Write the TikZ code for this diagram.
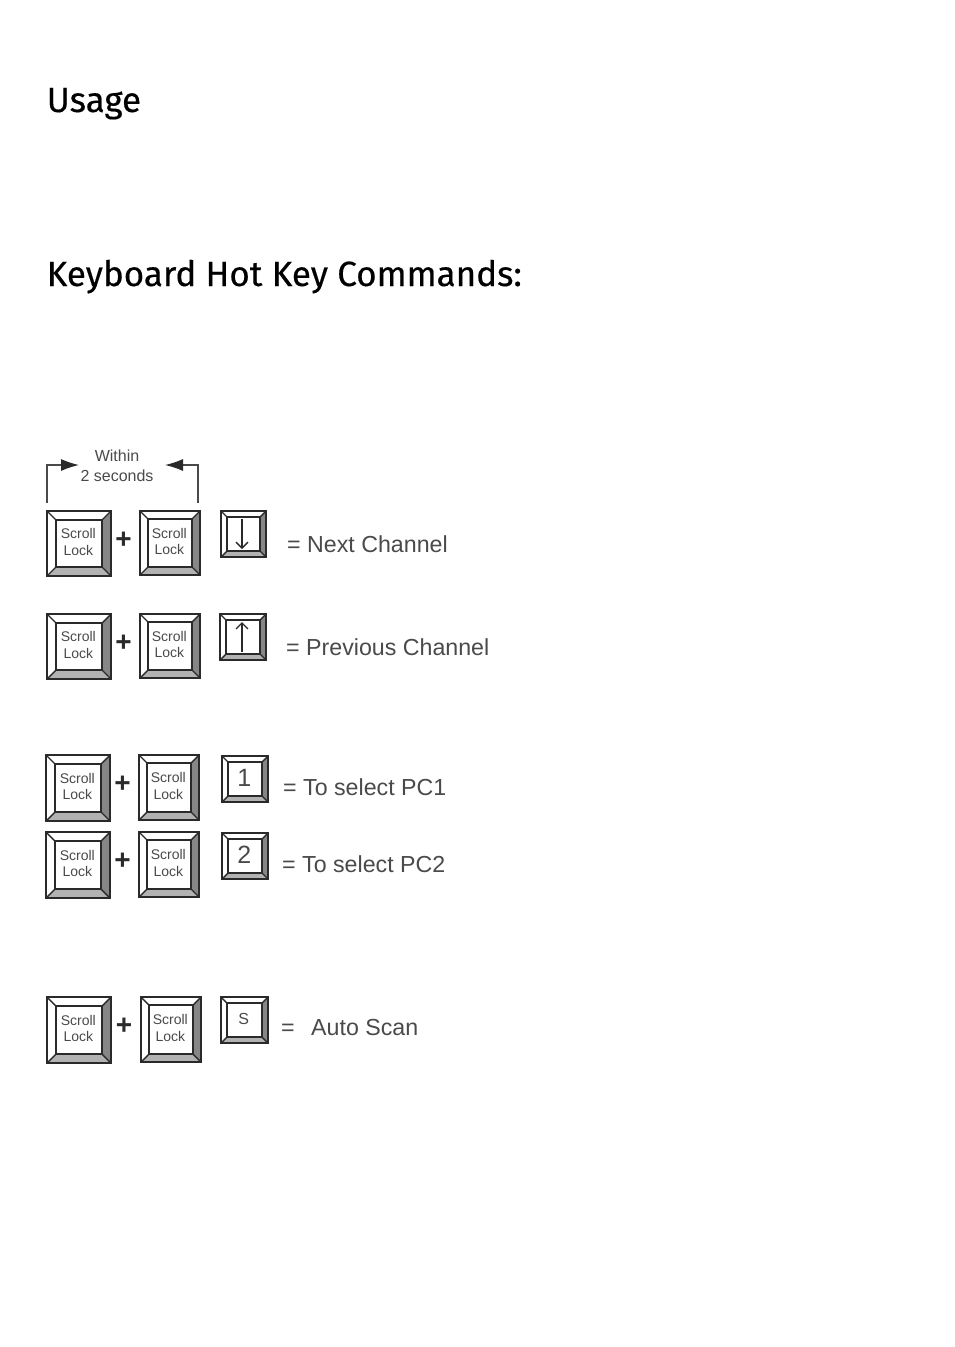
\documentclass[tikz,border=0pt]{standalone}
\usepackage{fontspec}
\setmainfont{Liberation Sans}
\newfontfamily\headfont[FakeBold=0.4]{Fira Sans}
\usetikzlibrary{arrows.meta}
\definecolor{keyink}{HTML}{2A2A2A}
\definecolor{labelink}{HTML}{4A4A4A}
\tikzset{x=1pt,y=-1pt,
 heading/.style={anchor=base west,inner sep=0pt,font=\headfont\fontsize{35}{35}\selectfont,text=black},
 keylabel/.style={align=center,inner sep=0pt,text=labelink,font=\fontsize{14}{16.5}\selectfont},
 desc/.style={anchor=base west,inner sep=0pt,text=labelink,font=\fontsize{23.2}{24}\selectfont},
 plus/.style={inner sep=0pt,text=keyink,font=\bfseries\fontsize{28}{28}\selectfont},
 edge/.style={draw=keyink,line width=2pt,line join=miter},
 inneredge/.style={draw=keyink,line width=1.4pt,line join=miter},
 bracket/.style={draw=labelink,line width=1.2pt,-{Latex[length=18pt,width=12pt,color=keyink]}},
 keyarrow/.style={draw=keyink,line width=1.3pt,-{Straight Barb[length=6pt,width=12pt]}},
}
% name, x0, y0, x1, y1, bevel, content
\newcommand{\keycap}[7]{%
 \fill[white] (#2,#3) rectangle (#4,#5);
 \fill[gray!95] (#4,#3) -- (#4,#5) -- ({#4-#6},{#5-#6}) -- ({#4-#6},{#3+#6}) -- cycle;
 \fill[gray!60] (#2,#5) -- (#4,#5) -- ({#4-#6},{#5-#6}) -- ({#2+#6},{#5-#6}) -- cycle;
 \draw[inneredge] (#2,#3) -- ({#2+#6},{#3+#6}) (#4,#3) -- ({#4-#6},{#3+#6}) (#2,#5) -- ({#2+#6},{#5-#6}) (#4,#5) -- ({#4-#6},{#5-#6});
 \draw[edge] (#2,#3) rectangle (#4,#5);
 \draw[inneredge] ({#2+#6},{#3+#6}) rectangle ({#4-#6},{#5-#6});
 \node[keylabel] (#1) at ({(#2+#4)/2-0.7},{(#3+#5)/2-1.5}) {#7};
}
\newcommand{\scrolllock}{Scroll\\Lock}
\begin{document}
\begin{tikzpicture}
\useasboundingbox[fill=white] (0,0) rectangle (954,1347);
\node[heading] (usage) at (46.5,112) {Usage};
\node[heading] (hot) at (46.5,286) {Keyboard Hot Key Commands:};

\node[keylabel,font=\fontsize{16}{20}\selectfont] (within) at (117,466) {Within\\2 seconds};
\coordinate (la) at (47,503);
\coordinate (ra) at (198,503);
\coordinate (lt) at (79,465);
\coordinate (rt) at (165,465);
\draw[bracket] (la) |- (lt);
\draw[bracket] (ra) |- (rt);

% row 1
\keycap{a1}{47}{511}{111}{576}{9}{\scrolllock}
\keycap{a2}{140}{511}{200}{575}{8}{\scrolllock}
\keycap{a3}{221}{511}{266}{557}{6}{}
\node[plus] (ap) at (123.5,540) {+};
\coordinate (a3t) at (242,519);
\coordinate (a3b) at (242,549);
\draw[keyarrow] (a3t) -- (a3b);
\node[desc] (at) at (287,552) {= Next Channel};

% row 2
\keycap{b1}{47}{614}{111}{679}{9}{\scrolllock}
\keycap{b2}{140}{614}{200}{678}{8}{\scrolllock}
\keycap{b3}{220}{614}{266}{660}{6}{}
\node[plus] (bp) at (123.5,643) {+};
\coordinate (b3t) at (242,622);
\coordinate (b3b) at (242,652);
\draw[keyarrow] (b3b) -- (b3t);
\node[desc] (bt) at (286,655) {= Previous Channel};

% row 3
\keycap{c1}{46}{755}{110}{821}{9}{\scrolllock}
\keycap{c2}{139}{755}{199}{820}{8}{\scrolllock}
\keycap{c3}{222}{756}{268}{802}{6}{\fontsize{25}{25}\selectfont 1}
\node[plus] (cp) at (122.5,784) {+};
\node[desc] (ct) at (283,795) {= To select PC1};

% row 4
\keycap{d1}{46}{832}{110}{898}{9}{\scrolllock}
\keycap{d2}{139}{832}{199}{897}{8}{\scrolllock}
\keycap{d3}{222}{833}{268}{879}{6}{\fontsize{25}{25}\selectfont 2}
\node[plus] (dp) at (122.5,861) {+};
\node[desc] (dt) at (282,872) {= To select PC2};

% row 5
\keycap{e1}{47}{997}{111}{1063}{9}{\scrolllock}
\keycap{e2}{141}{997}{201}{1062}{8}{\scrolllock}
\keycap{e3}{221}{997}{268}{1043}{6}{\fontsize{16}{16}\selectfont S}
\node[plus] (ep) at (124,1026) {+};
\node[desc] (et) at (281,1035) {=};
\node[desc] (et2) at (311,1035) {Auto Scan};
\end{tikzpicture}
\end{document}
